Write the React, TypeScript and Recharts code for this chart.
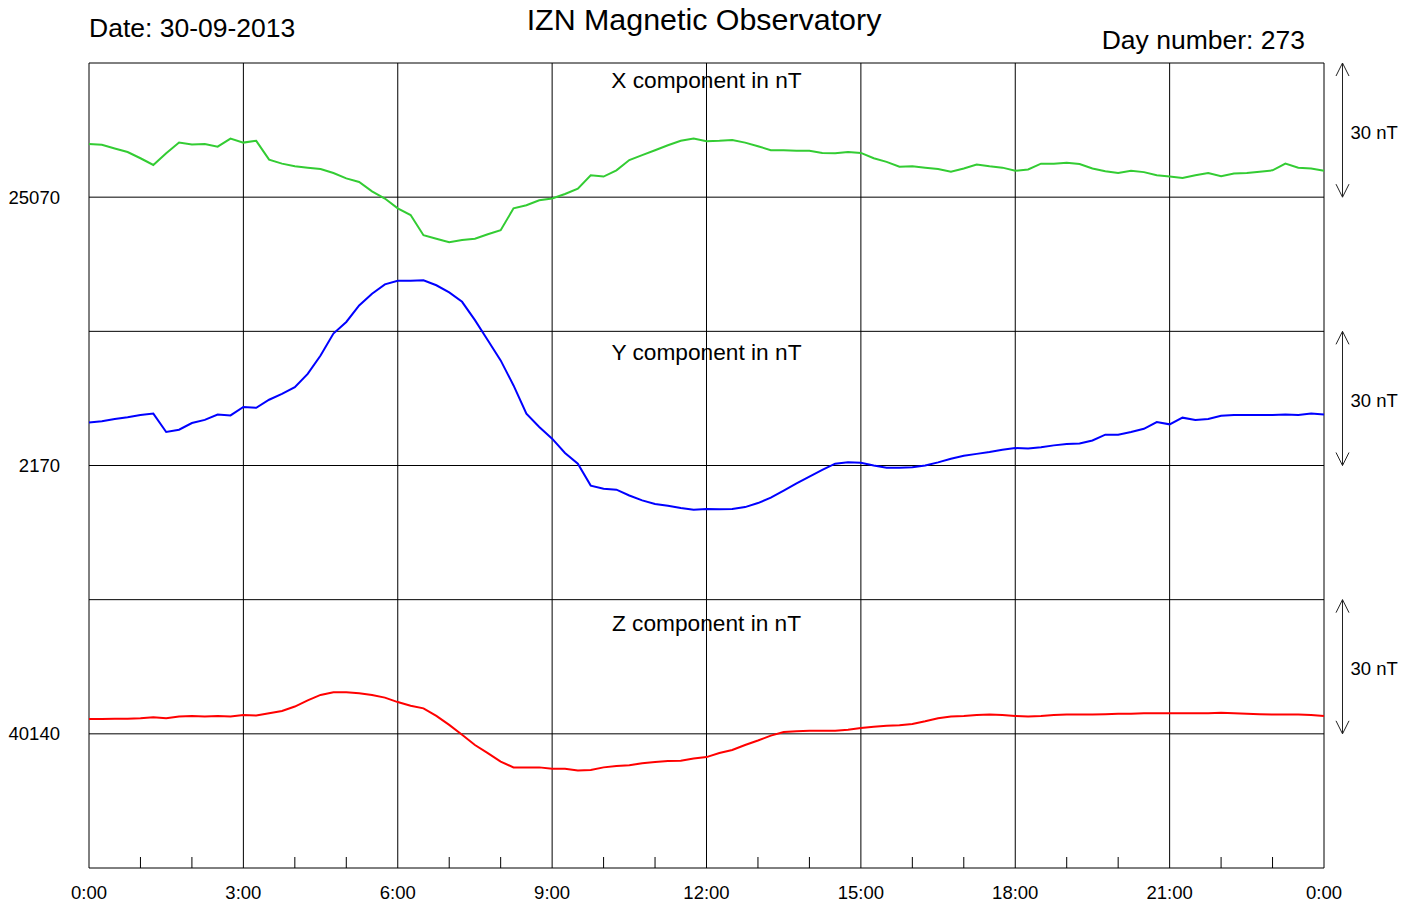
import React from "react";
import {
  LineChart,
  Line,
  XAxis,
  YAxis,
  ReferenceLine,
} from "recharts";

// time of day in hours, one sample every 15 minutes
const hours = [
  0, 0.25, 0.5, 0.75, 1, 1.25, 1.5, 1.75, 2, 2.25, 2.5, 2.75,
  3, 3.25, 3.5, 3.75, 4, 4.25, 4.5, 4.75, 5, 5.25, 5.5, 5.75,
  6, 6.25, 6.5, 6.75, 7, 7.25, 7.5, 7.75, 8, 8.25, 8.5, 8.75,
  9, 9.25, 9.5, 9.75, 10, 10.25, 10.5, 10.75, 11, 11.25, 11.5, 11.75,
  12, 12.25, 12.5, 12.75, 13, 13.25, 13.5, 13.75, 14, 14.25, 14.5, 14.75,
  15, 15.25, 15.5, 15.75, 16, 16.25, 16.5, 16.75, 17, 17.25, 17.5, 17.75,
  18, 18.25, 18.5, 18.75, 19, 19.25, 19.5, 19.75, 20, 20.25, 20.5, 20.75,
  21, 21.25, 21.5, 21.75, 22, 22.25, 22.5, 22.75, 23, 23.25, 23.5, 23.75,
  24,
];

// X component (nT)
const xComp = [
  25081.9, 25081.7, 25080.9, 25080.1, 25078.7, 25077.2, 25079.8, 25082.2, 25081.8, 25081.9, 25081.3, 25083.1,
  25082.2, 25082.6, 25078.4, 25077.5, 25076.9, 25076.6, 25076.3, 25075.4, 25074.2, 25073.4, 25071.3, 25069.7,
  25067.5, 25066.0, 25061.5, 25060.7, 25059.9, 25060.4, 25060.7, 25061.7, 25062.6, 25067.5, 25068.2, 25069.3,
  25069.7, 25070.7, 25071.9, 25074.9, 25074.6, 25076.0, 25078.3, 25079.4, 25080.5, 25081.6, 25082.6, 25083.1,
  25082.5, 25082.6, 25082.8, 25082.2, 25081.4, 25080.5, 25080.5, 25080.4, 25080.4, 25079.9, 25079.8, 25080.1,
  25079.9, 25078.7, 25077.9, 25076.8, 25076.9, 25076.6, 25076.3, 25075.7, 25076.4, 25077.3, 25076.9, 25076.6,
  25075.9, 25076.2, 25077.5, 25077.5, 25077.7, 25077.4, 25076.4, 25075.8, 25075.4, 25075.9, 25075.6, 25074.9,
  25074.6, 25074.3, 25074.9, 25075.4, 25074.7, 25075.3, 25075.4, 25075.7, 25076.0, 25077.5, 25076.6, 25076.4,
  25075.9,
];

// Y component (nT)
const yComp = [
  2179.6, 2179.9, 2180.4, 2180.8, 2181.3, 2181.6, 2177.5, 2178.0, 2179.5, 2180.2, 2181.4, 2181.2,
  2183.1, 2182.9, 2184.7, 2186.0, 2187.5, 2190.5, 2194.6, 2199.5, 2202.1, 2205.8, 2208.4, 2210.5,
  2211.3, 2211.3, 2211.4, 2210.3, 2208.7, 2206.6, 2202.5, 2198.0, 2193.5, 2187.9, 2181.6, 2178.6,
  2176.0, 2172.8, 2170.4, 2165.5, 2164.8, 2164.6, 2163.3, 2162.2, 2161.4, 2161.0, 2160.5, 2160.1,
  2160.3, 2160.2, 2160.3, 2160.7, 2161.6, 2162.8, 2164.4, 2166.0, 2167.5, 2169.0, 2170.4, 2170.7,
  2170.6, 2170.0, 2169.5, 2169.5, 2169.6, 2170.0, 2170.7, 2171.5, 2172.2, 2172.6, 2173.0, 2173.5,
  2173.9, 2173.8, 2174.1, 2174.5, 2174.8, 2174.9, 2175.6, 2176.9, 2176.9, 2177.5, 2178.2, 2179.7,
  2179.2, 2180.7, 2180.2, 2180.4, 2181.1, 2181.3, 2181.3, 2181.3, 2181.3, 2181.4, 2181.3, 2181.6,
  2181.4,
];

// Z component (nT)
const zComp = [
  40143.3, 40143.3, 40143.4, 40143.4, 40143.5, 40143.7, 40143.5, 40143.9, 40144.0, 40143.9, 40144.0, 40143.9,
  40144.2, 40144.1, 40144.6, 40145.1, 40146.1, 40147.5, 40148.7, 40149.3, 40149.3, 40149.1, 40148.7, 40148.1,
  40147.1, 40146.3, 40145.7, 40144.0, 40142.0, 40139.8, 40137.5, 40135.7, 40133.8, 40132.5, 40132.5, 40132.5,
  40132.2, 40132.2, 40131.8, 40131.9, 40132.5, 40132.8, 40133.0, 40133.4, 40133.7, 40133.9, 40134.0, 40134.5,
  40134.8, 40135.7, 40136.4, 40137.5, 40138.5, 40139.6, 40140.4, 40140.6, 40140.7, 40140.7, 40140.7, 40140.9,
  40141.3, 40141.6, 40141.8, 40141.9, 40142.2, 40142.8, 40143.5, 40143.9, 40144.0, 40144.2, 40144.3, 40144.2,
  40144.0, 40143.9, 40144.0, 40144.2, 40144.3, 40144.3, 40144.3, 40144.4, 40144.5, 40144.5, 40144.6, 40144.6,
  40144.6, 40144.6, 40144.6, 40144.6, 40144.7, 40144.6, 40144.5, 40144.4, 40144.3, 40144.3, 40144.3, 40144.2,
  40144.0,
];

const hourTicks = [0, 1, 2, 3, 4, 5, 6, 7, 8, 9, 10, 11, 12, 13, 14, 15, 16, 17, 18, 19, 20, 21, 22, 23, 24];
const gridHours = [0, 3, 6, 9, 12, 15, 18, 21, 24];

// each panel is 60 nT tall, baseline value and 30 nT scale bar
const panels = [
  { id: "x", name: "X component in nT", base: 25070, domain: [24920, 25100], color: "#33cc33", titleOffset: 9 },
  { id: "y", name: "Y component in nT", base: 2170, domain: [2080, 2260], color: "#0000ff", titleOffset: 13 },
  { id: "z", name: "Z component in nT", base: 40140, domain: [40110, 40290], color: "#ff0000", titleOffset: 15 },
];
const scaleSpan = 30;

const data = hours.map((h, i) => ({ h, x: xComp[i], y: yComp[i], z: zComp[i] }));

const FONT = "Arial, 'Liberation Sans', sans-serif";

function HourTick(props: any) {
  const { x, y, payload } = props;
  const v = payload.value as number;
  if (v % 3 !== 0) {
    return <line x1={x} x2={x} y1={y - 11} y2={y} stroke="#000" strokeWidth={1} />;
  }
  return (
    <text x={x} y={y + 31} textAnchor="middle" fontSize={18.5} fontFamily={FONT} fill="#000">
      {`${v % 24}:00`}
    </text>
  );
}

function ScaleBar(props: any) {
  const { x1, y1, y2 } = props;
  const ax = x1 + 18.5;
  const top = Math.min(y1, y2);
  const bot = Math.max(y1, y2);
  const mid = (top + bot) / 2;
  return (
    <g>
      <line x1={ax} x2={ax} y1={top} y2={bot} stroke="#222" strokeWidth={1} />
      <polyline points={`${ax - 6.5},${top + 13} ${ax},${top} ${ax + 6.5},${top + 13}`} fill="none" stroke="#222" strokeWidth={1} />
      <polyline points={`${ax - 6.5},${bot - 13} ${ax},${bot} ${ax + 6.5},${bot - 13}`} fill="none" stroke="#222" strokeWidth={1} />
      <text x={ax + 8} y={mid + 8.5} fontSize={18.5} fontFamily={FONT} fill="#000">
        30 nT
      </text>
    </g>
  );
}

export default function App() {
  return (
    <div style={{ position: "absolute", left: 0, top: 0, width: 1420, height: 907, background: "#fff" }}>
      <LineChart
        width={1420}
        height={907}
        data={data}
        margin={{ top: 63, right: 96, left: 89, bottom: 9 }}
      >
        <XAxis
          dataKey="h"
          type="number"
          domain={[0, 24]}
          ticks={hourTicks}
          interval={0}
          height={30}
          tickLine={false}
          tickSize={0}
          tickMargin={0}
          tick={<HourTick />}
          axisLine={{ stroke: "#000", strokeWidth: 1 }}
        />
        {panels.map((p) => (
          <YAxis
            key={p.id}
            yAxisId={p.id}
            type="number"
            domain={p.domain}
            allowDataOverflow
            hide
          />
        ))}

        {gridHours.map((h) => (
          <ReferenceLine key={`g${h}`} yAxisId="x" x={h} stroke="#000" strokeWidth={1} />
        ))}

        {/* panel tops with their titles */}
        {panels.map((p) => (
          <ReferenceLine
            key={`top-${p.id}`}
            yAxisId={p.id}
            y={p.base + scaleSpan}
            stroke="#000"
            strokeWidth={1}
            label={{ value: p.name, position: "bottom", offset: p.titleOffset, fontSize: 22.7, fontFamily: FONT, fill: "#000" }}
          />
        ))}

        {/* baselines with values */}
        {panels.map((p) => (
          <ReferenceLine
            key={`base-${p.id}`}
            yAxisId={p.id}
            y={p.base}
            stroke="#000"
            strokeWidth={1}
            label={{ value: String(p.base), position: "left", offset: 29, fontSize: 18.5, fontFamily: FONT, fill: "#000" }}
          />
        ))}

        {/* 30 nT scale bars */}
        {panels.map((p) => (
          <ReferenceLine
            key={`scale-${p.id}`}
            yAxisId={p.id}
            segment={[{ x: 24, y: p.base }, { x: 24, y: p.base + scaleSpan }]}
            shape={(sp: any) => <ScaleBar {...sp} />}
          />
        ))}

        {panels.map((p) => (
          <Line
            key={p.id}
            yAxisId={p.id}
            dataKey={p.id}
            type="linear"
            stroke={p.color}
            strokeWidth={2}
            dot={false}
            isAnimationActive={false}
          />
        ))}
      </LineChart>
      <svg
        width={1420}
        height={907}
        style={{ position: "absolute", left: 0, top: 0, pointerEvents: "none" }}
      >
        <text x={89} y={36.5} fontSize={26.5} fontFamily={FONT} fill="#000">
          Date: 30-09-2013
        </text>
        <text x={704} y={30} textAnchor="middle" fontSize={30.4} fontFamily={FONT} fill="#000">
          IZN Magnetic Observatory
        </text>
        <text x={1305} y={48.5} textAnchor="end" fontSize={26.5} fontFamily={FONT} fill="#000">
          Day number: 273
        </text>
      </svg>
    </div>
  );
}
